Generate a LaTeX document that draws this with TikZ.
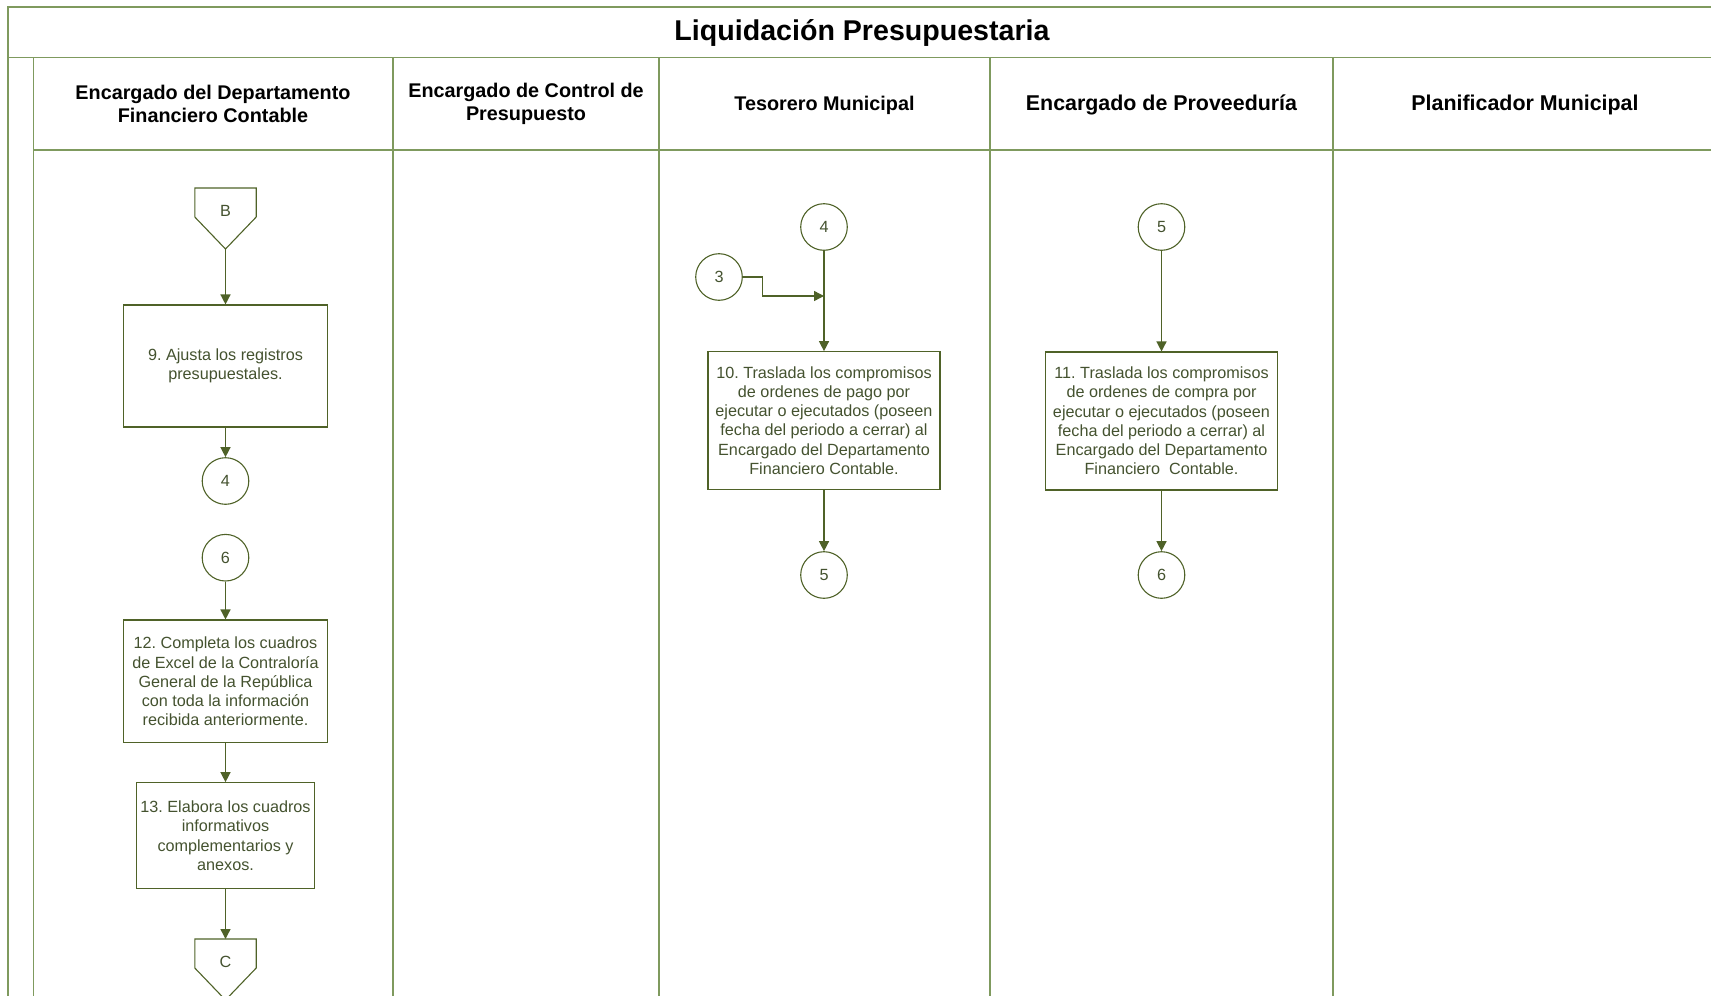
\documentclass[tikz,border=0pt]{standalone}
\usepackage{fontspec}
\setmainfont{Liberation Sans}
\usetikzlibrary{arrows.meta,calc}
\definecolor{frameline}{HTML}{7F9A5E}
\definecolor{flowline}{HTML}{4F6228}
\definecolor{boxtext}{HTML}{44522F}
\frenchspacing

\begin{document}
\begin{tikzpicture}[x=0.5pt,y=-0.5pt,
  lane/.style={draw=frameline,line width=0.8pt},
  head/.style={font=\bfseries\fontsize{9.9}{11.5}\selectfont,align=center,text=black,inner sep=0pt},
  headbig/.style={font=\bfseries\fontsize{10.7}{12.5}\selectfont,align=center,text=black,inner sep=0pt},
  task/.style={draw=flowline,line width=0.55pt,align=center,text=boxtext,
    font=\fontsize{8.1}{9.6}\selectfont,inner sep=0pt},
  link/.style={circle,draw=flowline,line width=0.55pt,minimum size=23.3pt,inner sep=0pt,
    text=boxtext,font=\fontsize{8.1}{9.6}\selectfont},
  offtext/.style={inner sep=0pt,text=boxtext,font=\fontsize{8.1}{9.6}\selectfont},
  offline/.style={draw=flowline,line width=0.55pt},
  flow/.style={draw=flowline,line width=0.7pt,-{Triangle[length=5pt,width=5pt]}},
]
\useasboundingbox (0,0) rectangle (1711,995);
\clip (0,0) rectangle (1711,995);

% swimlane frame
\draw[lane] (8,1000) -- (8,7) -- (1720,7);
\draw[lane] (8,57.5) -- (1720,57.5);
\draw[lane] (33.5,57.5) -- (33.5,1000);
\draw[lane] (33.5,150) -- (1720,150);
\foreach \x in {393,659,990,1333} \draw[lane] (\x,57.5) -- (\x,1000);

% title and lane headers
\node[font=\bfseries\fontsize{14.3}{17}\selectfont,inner sep=0pt] (title) at (862,33) {Liquidación Presupuestaria};
\node[head] (h1) at (213,103.5) {Encargado del Departamento\\Financiero Contable};
\node[head] (h2) at (526,103.5) {Encargado de Control de\\Presupuesto};
\node[head] (h3) at (824.5,105.5) {Tesorero Municipal};
\node[headbig] (h4) at (1161.5,105) {Encargado de Proveeduría};
\node[headbig] (h5) at (1525,105) {Planificador Municipal};

% lane 1: Departamento Financiero Contable
\node[offtext] (B) at (225.5,211) {B};
\draw[offline] ($(B)+(-30.7,-23)$) -- ($(B)+(30.7,-23)$) -- ($(B)+(30.7,6)$)
  -- ($(B)+(0,38)$) -- ($(B)+(-30.7,6)$) -- cycle;
\coordinate (Btip) at ($(B)+(0,38)$);

\node[task,minimum width=102.3pt,minimum height=61pt] (b9) at (225.5,366)
  {9. Ajusta los registros\\presupuestales.};
\node[link] (l4) at (225.5,481) {4};
\node[link] (l6) at (225.5,557.7) {6};
\node[task,minimum width=102.2pt,minimum height=61.4pt] (b12) at (225.5,681.4)
  {12. Completa los cuadros\\de Excel de la Contraloría\\General de la República\\con toda la información\\recibida anteriormente.};
\node[task,minimum width=88.8pt,minimum height=53pt] (b13) at (225.5,835.7)
  {13. Elabora los cuadros\\informativos\\complementarios y\\anexos.};
\node[offtext] (C) at (225.5,962) {C};
\draw[offline] ($(C)+(-30.7,-23)$) -- ($(C)+(30.7,-23)$) -- ($(C)+(30.7,6)$)
  -- ($(C)+(0,38)$) -- ($(C)+(-30.7,6)$) -- cycle;
\coordinate (Ctop) at ($(C)+(0,-23)$);

\draw[flow] (Btip) -- (b9.north);
\draw[flow] (b9.south) -- (l4.north);
\draw[flow] (l6.south) -- (b12.north);
\draw[flow] (b12.south) -- (b13.north);
\draw[flow] (b13.south) -- (Ctop);

% lane 3: Tesorero Municipal
\node[link] (t4) at (824,227) {4};
\node[link] (t3) at (719,277) {3};
\node[task,minimum width=116pt,minimum height=68.8pt] (b10) at (824,420.5)
  {10. Traslada los compromisos\\de ordenes de pago por\\ejecutar o ejecutados (poseen\\fecha del periodo a cerrar) al\\Encargado del Departamento\\Financiero Contable.};
\node[link] (t5) at (824,575) {5};
\coordinate (j3) at (824,296);
\draw[flow] (t4.south) -- (b10.north);
\draw[flow] (t3.east) -- ++(19.4,0) |- (j3);
\draw[flow] (b10.south) -- (t5.north);

% lane 4: Proveeduría
\node[link] (p5) at (1161.5,227) {5};
\node[task,minimum width=116pt,minimum height=69pt] (b11) at (1161.5,421)
  {11. Traslada los compromisos\\de ordenes de compra por\\ejecutar o ejecutados (poseen\\fecha del periodo a cerrar) al\\Encargado del Departamento\\Financiero\ \ Contable.};
\node[link] (p6) at (1161.5,575) {6};
\draw[flow] (p5.south) -- (b11.north);
\draw[flow] (b11.south) -- (p6.north);
\end{tikzpicture}
\end{document}
